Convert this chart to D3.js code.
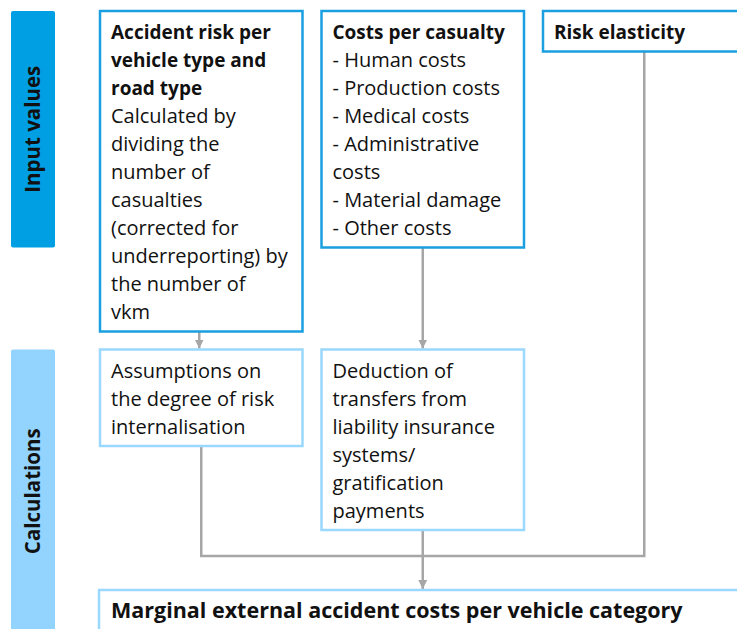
<!DOCTYPE html>
<html>
<head>
<meta charset="utf-8">
<script src="https://cdn.jsdelivr.net/npm/d3@7"></script>
<style>
  body { margin: 0; background: #fff; }
  svg { display: block; font-family: "Open Sans", sans-serif; }
</style>
</head>
<body>
<script>
// section labels on the left
const sections = ['Input values', 'Calculations']

// box texts (bold heading lines, then plain lines)
const riskBold = ['Accident risk per', 'vehicle type and', 'road type']
const riskText = ['Calculated by', 'dividing the', 'number of', 'casualties', '(corrected for',
  'underreporting) by', 'the number of', 'vkm']
const costBold = ['Costs per casualty']
const costText = ['- Human costs', '- Production costs', '- Medical costs', '- Administrative',
  'costs', '- Material damage', '- Other costs']
const elasticityBold = ['Risk elasticity']
const assumptionText = ['Assumptions on', 'the degree of risk', 'internalisation']
const deductionText = ['Deduction of', 'transfers from', 'liability insurance', 'systems/',
  'gratification', 'payments']
const resultTitle = 'Marginal external accident costs per vehicle category'

const width = 737
const height = 629
const lineH = 28

const darkBlue = '#009fe3'
const lightBlue = '#92d4fe'
const boxDark = '#1aa0e0'
const boxLight = '#9ad8fd'
const grey = '#a6a6a6'

const boxes = [
  { id: 'risk', col: 0, row: 0, bold: riskBold, text: riskText },
  { id: 'cost', col: 1, row: 0, bold: costBold, text: costText },
  { id: 'elast', col: 2, row: 0, bold: elasticityBold, text: [] },
  { id: 'assume', col: 0, row: 1, bold: [], text: assumptionText },
  { id: 'deduct', col: 1, row: 1, bold: [], text: deductionText }
]

const x = d3.scaleBand()
  .domain([0, 1, 2])
  .range([100, 745.5])
  .paddingInner(0.0858)

boxes.forEach(b => { b.h = (b.bold.length + b.text.length) * lineH + 12.5 })

const row0Top = 11
const row1Top = row0Top + d3.max(boxes.filter(b => b.row === 0), b => b.h) + 18
boxes.forEach(b => { b.y = b.row === 0 ? row0Top : row1Top })
const mergeY = row1Top + d3.max(boxes.filter(b => b.row === 1), b => b.h) + 26
const resultTop = mergeY + 34

const byId = {}
boxes.forEach(b => { byId[b.id] = b })
const cx = b => x(b.col) + x.bandwidth() / 2

let svg = d3.select('body')
  .append('svg')
  .attr('width', width)
  .attr('height', height)

svg.append('defs')
  .append('marker')
  .attr('id', 'arrow')
  .attr('viewBox', '0 0 10 10')
  .attr('refX', 10)
  .attr('refY', 5)
  .attr('markerWidth', 3.6)
  .attr('markerHeight', 3.6)
  .attr('markerUnits', 'strokeWidth')
  .attr('orient', 'auto')
  .append('path')
  .attr('d', 'M0,0L10,5L0,10Z')
  .attr('fill', grey)

// section bands
const bandTops = [11, row1Top]
const bandBottoms = [row0Top + byId.cost.h, height + 4]
let bands = svg.selectAll('g.band')
  .data(sections)
  .enter()
  .append('g')
  .attr('class', 'band')

bands.append('rect')
  .attr('x', 11)
  .attr('y', (d, i) => bandTops[i])
  .attr('width', 44)
  .attr('height', (d, i) => bandBottoms[i] - bandTops[i])
  .attr('rx', 2)
  .attr('fill', (d, i) => i === 0 ? darkBlue : lightBlue)

bands.append('text')
  .attr('transform', (d, i) => `translate(40,${(bandTops[i] + bandBottoms[i]) / 2}) rotate(-90)`)
  .attr('text-anchor', 'middle')
  .attr('font-weight', 'bold')
  .attr('font-size', 20.5)
  .attr('fill', '#111')
  .text(d => d)

// connectors
const links = svg.append('g')
  .attr('fill', 'none')
  .attr('stroke', grey)
  .attr('stroke-width', 2.5)

links.append('line')
  .attr('x1', cx(byId.risk) - 2).attr('x2', cx(byId.risk) - 2)
  .attr('y1', byId.risk.y + byId.risk.h).attr('y2', row1Top - 1)
  .attr('marker-end', 'url(#arrow)')

links.append('line')
  .attr('x1', cx(byId.cost)).attr('x2', cx(byId.cost))
  .attr('y1', byId.cost.y + byId.cost.h).attr('y2', row1Top - 1)
  .attr('marker-end', 'url(#arrow)')

links.append('path')
  .attr('d', d3.line()([
    [cx(byId.assume), byId.assume.y + byId.assume.h],
    [cx(byId.assume), mergeY],
    [cx(byId.elast), mergeY],
    [cx(byId.elast), byId.elast.y + byId.elast.h]
  ]))

links.append('line')
  .attr('x1', cx(byId.deduct)).attr('x2', cx(byId.deduct))
  .attr('y1', byId.deduct.y + byId.deduct.h).attr('y2', resultTop - 1)
  .attr('marker-end', 'url(#arrow)')

// boxes
let nodes = svg.selectAll('g.box')
  .data(boxes)
  .enter()
  .append('g')
  .attr('class', 'box')
  .attr('transform', d => `translate(${x(d.col)},${d.y})`)

nodes.append('rect')
  .attr('width', x.bandwidth())
  .attr('height', d => d.h)
  .attr('fill', '#fff')
  .attr('stroke', d => d.row === 0 ? boxDark : boxLight)
  .attr('stroke-width', 2.5)

nodes.each(function (d) {
  const lines = d.bold.map(t => ({ t, b: true })).concat(d.text.map(t => ({ t, b: false })))
  d3.select(this).selectAll('text')
    .data(lines)
    .enter()
    .append('text')
    .attr('x', 11)
    .attr('y', (l, i) => 28 + i * lineH)
    .attr('font-size', l => l.b ? 19 : 20)
    .attr('font-weight', l => l.b ? 'bold' : 'normal')
    .attr('fill', '#111')
    .text(l => l.t)
})

// result box
svg.append('rect')
  .attr('x', 99)
  .attr('y', resultTop)
  .attr('width', 700)
  .attr('height', 60)
  .attr('fill', '#fff')
  .attr('stroke', boxLight)
  .attr('stroke-width', 2.5)

svg.append('text')
  .attr('x', 111)
  .attr('y', resultTop + 28)
  .attr('font-size', 21.5)
  .attr('font-weight', 'bold')
  .attr('fill', '#111')
  .text(resultTitle)
</script>
</body>
</html>
